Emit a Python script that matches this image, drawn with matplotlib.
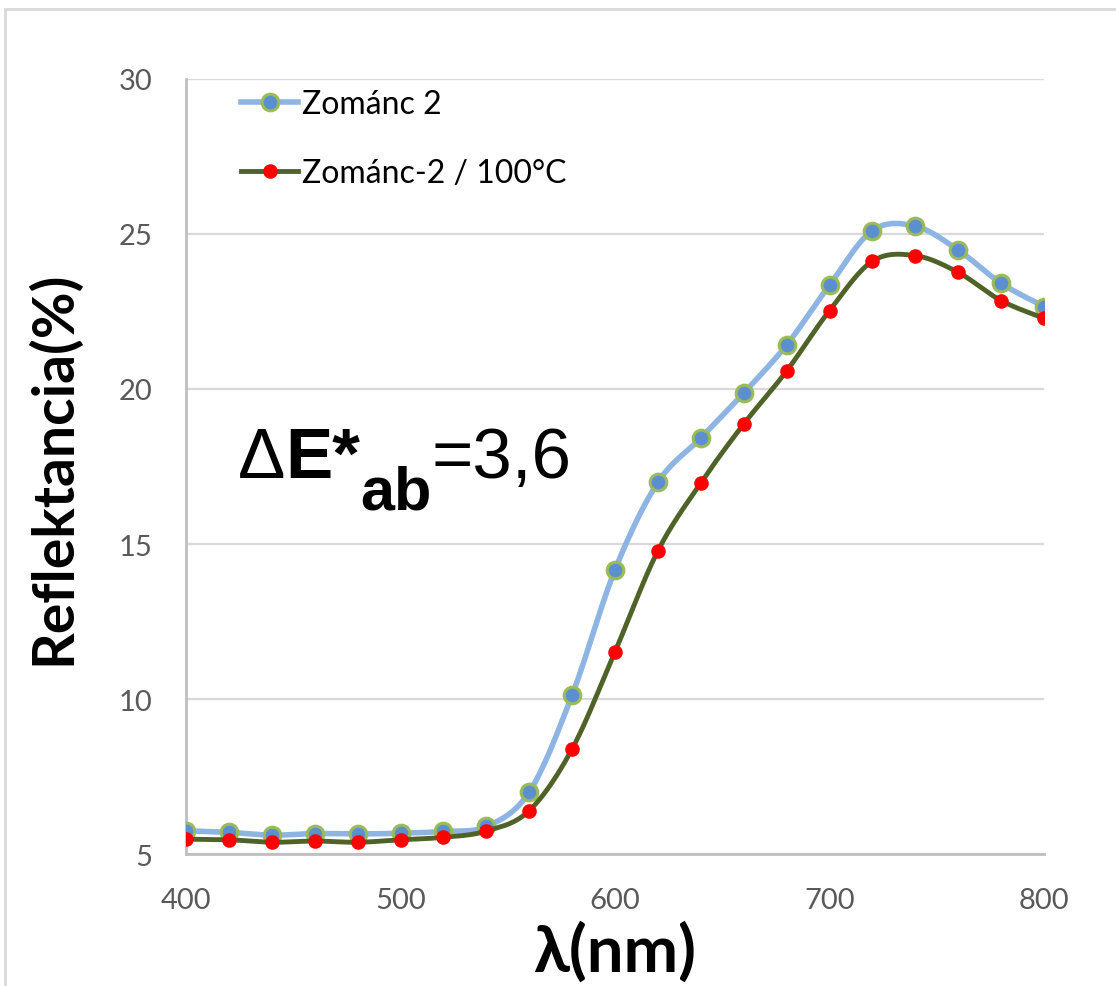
import numpy as np
import matplotlib
matplotlib.use("Agg")
import matplotlib.pyplot as plt
from matplotlib.patches import Rectangle
from matplotlib.lines import Line2D

# === data ===
wavelength = [400, 420, 440, 460, 480, 500, 520, 540, 560, 580,
              600, 620, 640, 660, 680, 700, 720, 740, 760, 780, 800]
zomanc2 = [5.75, 5.70, 5.61, 5.66, 5.65, 5.67, 5.73, 5.89, 7.0, 10.13,
           14.17, 16.99, 18.42, 19.87, 21.42, 23.35, 25.11, 25.25, 24.48, 23.41, 22.66]
zomanc2_100c = [5.48, 5.46, 5.38, 5.42, 5.38, 5.46, 5.54, 5.74, 6.40, 8.39,
                11.53, 14.78, 16.97, 18.87, 20.58, 22.53, 24.12, 24.30, 23.76, 22.85, 22.28]
series_names = ["Zománc 2", "Zománc-2 / 100°C"]
x_ticks = [400, 500, 600, 700, 800]
y_ticks = [5, 10, 15, 20, 25, 30]

tick_font = "Lato"


def smooth(xs, ys, n=30):
    # excel-like smoothed line (catmull-rom through the points)
    p = np.column_stack([xs, ys]).astype(float)
    p = np.vstack([p[0], p, p[-1]])
    out = []
    t = np.linspace(0, 1, n, endpoint=False)
    for i in range(1, len(p) - 2):
        p0, p1, p2, p3 = p[i - 1], p[i], p[i + 1], p[i + 2]
        c1 = p1 + (p2 - p0) / 6
        c2 = p2 - (p3 - p1) / 6
        for tt in t:
            out.append((1 - tt) ** 3 * p1 + 3 * (1 - tt) ** 2 * tt * c1
                       + 3 * (1 - tt) * tt ** 2 * c2 + tt ** 3 * p2)
    out.append(p[-2])
    out = np.array(out)
    return out[:, 0], out[:, 1]


fig = plt.figure(figsize=(11.16, 9.87), dpi=100)
ax = fig.add_axes([0.1667, 0.1337, 0.7688, 0.7853])

# chart frame border
fig.add_artist(Rectangle((5 / 1116, -0.1), 1.2, 0.1 + 977 / 987, transform=fig.transFigure,
                         fill=False, edgecolor="#D9D9D9", linewidth=2))

blue_line = "#8DB4E2"
green_line = "#4F6228"

sx, sy = smooth(wavelength, zomanc2)
ax.plot(sx, sy, color=blue_line, linewidth=4, solid_capstyle="round", zorder=3)
ax.plot(wavelength, zomanc2, linestyle="none", marker="o", markersize=12,
        markerfacecolor="#5B8FD0", markeredgecolor="#9BBB59", markeredgewidth=2.2, zorder=4)

sx, sy = smooth(wavelength, zomanc2_100c)
ax.plot(sx, sy, color=green_line, linewidth=3.5, solid_capstyle="round", zorder=5)
ax.plot(wavelength, zomanc2_100c, linestyle="none", marker="o", markersize=10.5,
        markerfacecolor="#FF0000", markeredgecolor="#FF0000", markeredgewidth=0, zorder=6)

ax.set_xlim(400, 800)
ax.set_ylim(5, 30)
ax.set_xticks(x_ticks)
ax.set_yticks(y_ticks)
ax.tick_params(length=0, labelsize=21, labelcolor="#595959", pad=24)
for lab in ax.get_xticklabels() + ax.get_yticklabels():
    lab.set_fontfamily(tick_font)
ax.grid(axis="y", color="#D9D9D9", linewidth=1.6)
ax.set_axisbelow(True)
for s in ["top", "right"]:
    ax.spines[s].set_visible(False)
for s in ["left", "bottom"]:
    ax.spines[s].set_color("#BFBFBF")
    ax.spines[s].set_linewidth(2)

ax.set_ylabel("Reflektancia(%)", fontsize=41, fontweight="bold", family="Lato", labelpad=28)
ax.set_xlabel("λ(nm)", fontsize=47, fontweight="bold", family="Lato", labelpad=5)

handles = [
    Line2D([], [], color=blue_line, linewidth=4, marker="o", markersize=12,
           markerfacecolor="#5B8FD0", markeredgecolor="#9BBB59", markeredgewidth=2.2),
    Line2D([], [], color=green_line, linewidth=3.5, marker="o", markersize=10.5,
           markerfacecolor="#FF0000", markeredgecolor="#FF0000", markeredgewidth=0),
]
ax.legend(handles, series_names, loc="upper left", bbox_to_anchor=(0.049, 1.003),
          frameon=False, prop={"family": tick_font, "size": 23}, handlelength=1.8,
          handletextpad=0.1, labelspacing=1.2, borderaxespad=0)

# delta E annotation, built from pieces
fs = 51
t1 = ax.text(0.06, 0.486, "Δ", transform=ax.transAxes, fontsize=fs,
             family="Liberation Sans", va="baseline")
t2 = ax.annotate("E*", xycoords=t1, xy=(1, 0), va="bottom", fontsize=fs,
                 family="Liberation Sans", fontweight="bold")
t3 = ax.annotate("ab", xycoords=t2, xy=(1, 0), xytext=(0, -21), textcoords="offset points",
                 va="bottom", fontsize=44, family="Liberation Sans", fontweight="bold")
t4 = ax.annotate("=3,6", xycoords=(t3, t2), xy=(1, 0), va="bottom", fontsize=fs,
                 family="Liberation Sans")

fig.savefig("out.png", dpi=100)
